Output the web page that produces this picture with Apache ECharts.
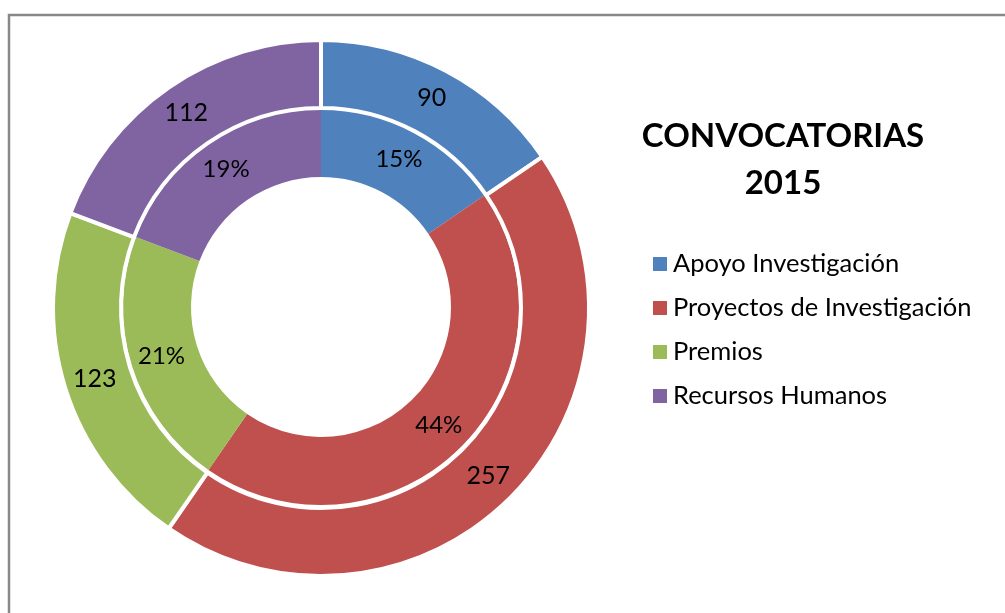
<!DOCTYPE html>
<html>
<head>
<meta charset="utf-8">
<script src="https://cdn.jsdelivr.net/npm/echarts@6/dist/echarts.min.js"></script>
<style>
html,body{margin:0;padding:0;background:#fff;}
#chart{width:1005px;height:613px;}
</style>
</head>
<body>
<div id="chart"></div>
<script>
var categories = ['Apoyo Investigación', 'Proyectos de Investigación', 'Premios', 'Recursos Humanos'];
var values = [90, 257, 123, 112];
var colors = ['#4F81BD', '#C0504D', '#9BBB59', '#8064A2'];
var titleLines = ['CONVOCATORIAS', '2015'];

var total = values.reduce(function (a, b) { return a + b; }, 0);
var data = categories.map(function (c, i) {
  return { name: c, value: values[i], itemStyle: { color: colors[i] } };
});

var chart = echarts.init(document.getElementById('chart'));
var font = 'Lato, "Liberation Sans", sans-serif';
chart.setOption({
  animation: false,
  backgroundColor: '#fff',
  graphic: [
    { type: 'rect', shape: { x: 9, y: 15, width: 1000, height: 620 },
      style: { fill: 'none', stroke: '#888', lineWidth: 2.5 }, silent: true },
    { type: 'text', x: 783, y: 120, style: { text: titleLines[0], fill: '#000', font: 'bold 33px ' + font, textAlign: 'center', textVerticalAlign: 'top' } },
    { type: 'text', x: 783, y: 167, style: { text: titleLines[1], fill: '#000', font: 'bold 33px ' + font, textAlign: 'center', textVerticalAlign: 'top' } }
  ],
  legend: {
    orient: 'vertical',
    left: 648,
    top: 246,
    itemWidth: 14,
    itemHeight: 14,
    itemGap: 18,
    icon: 'rect',
    selectedMode: false,
    textStyle: { fontFamily: font, fontSize: 25.5, color: '#000', padding: [0, 0, 0, 1], lineHeight: 26 },
    data: categories
  },
  series: [
    {
      type: 'pie',
      name: 'inner',
      center: [321, 307],
      radius: [130, 198],
      startAngle: 90,
      clockwise: true,
      silent: true,
      label: {
        position: 'inside',
        fontFamily: font,
        fontSize: 24,
        color: '#000',
        formatter: function (p) { return Math.round(p.value / total * 100) + '%'; }
      },
      labelLine: { show: false },
      itemStyle: { borderWidth: 0 },
      data: data
    },
    {
      type: 'pie',
      name: 'outer',
      center: [321, 308],
      radius: [200, 268],
      startAngle: 90,
      clockwise: true,
      silent: true,
      label: {
        position: 'inside',
        fontFamily: font,
        fontSize: 25,
        color: '#000',
        formatter: '{c}'
      },
      labelLine: { show: false },
      itemStyle: { borderColor: '#fff', borderWidth: 4 },
      data: data
    }
  ]
});
</script>
</body>
</html>
